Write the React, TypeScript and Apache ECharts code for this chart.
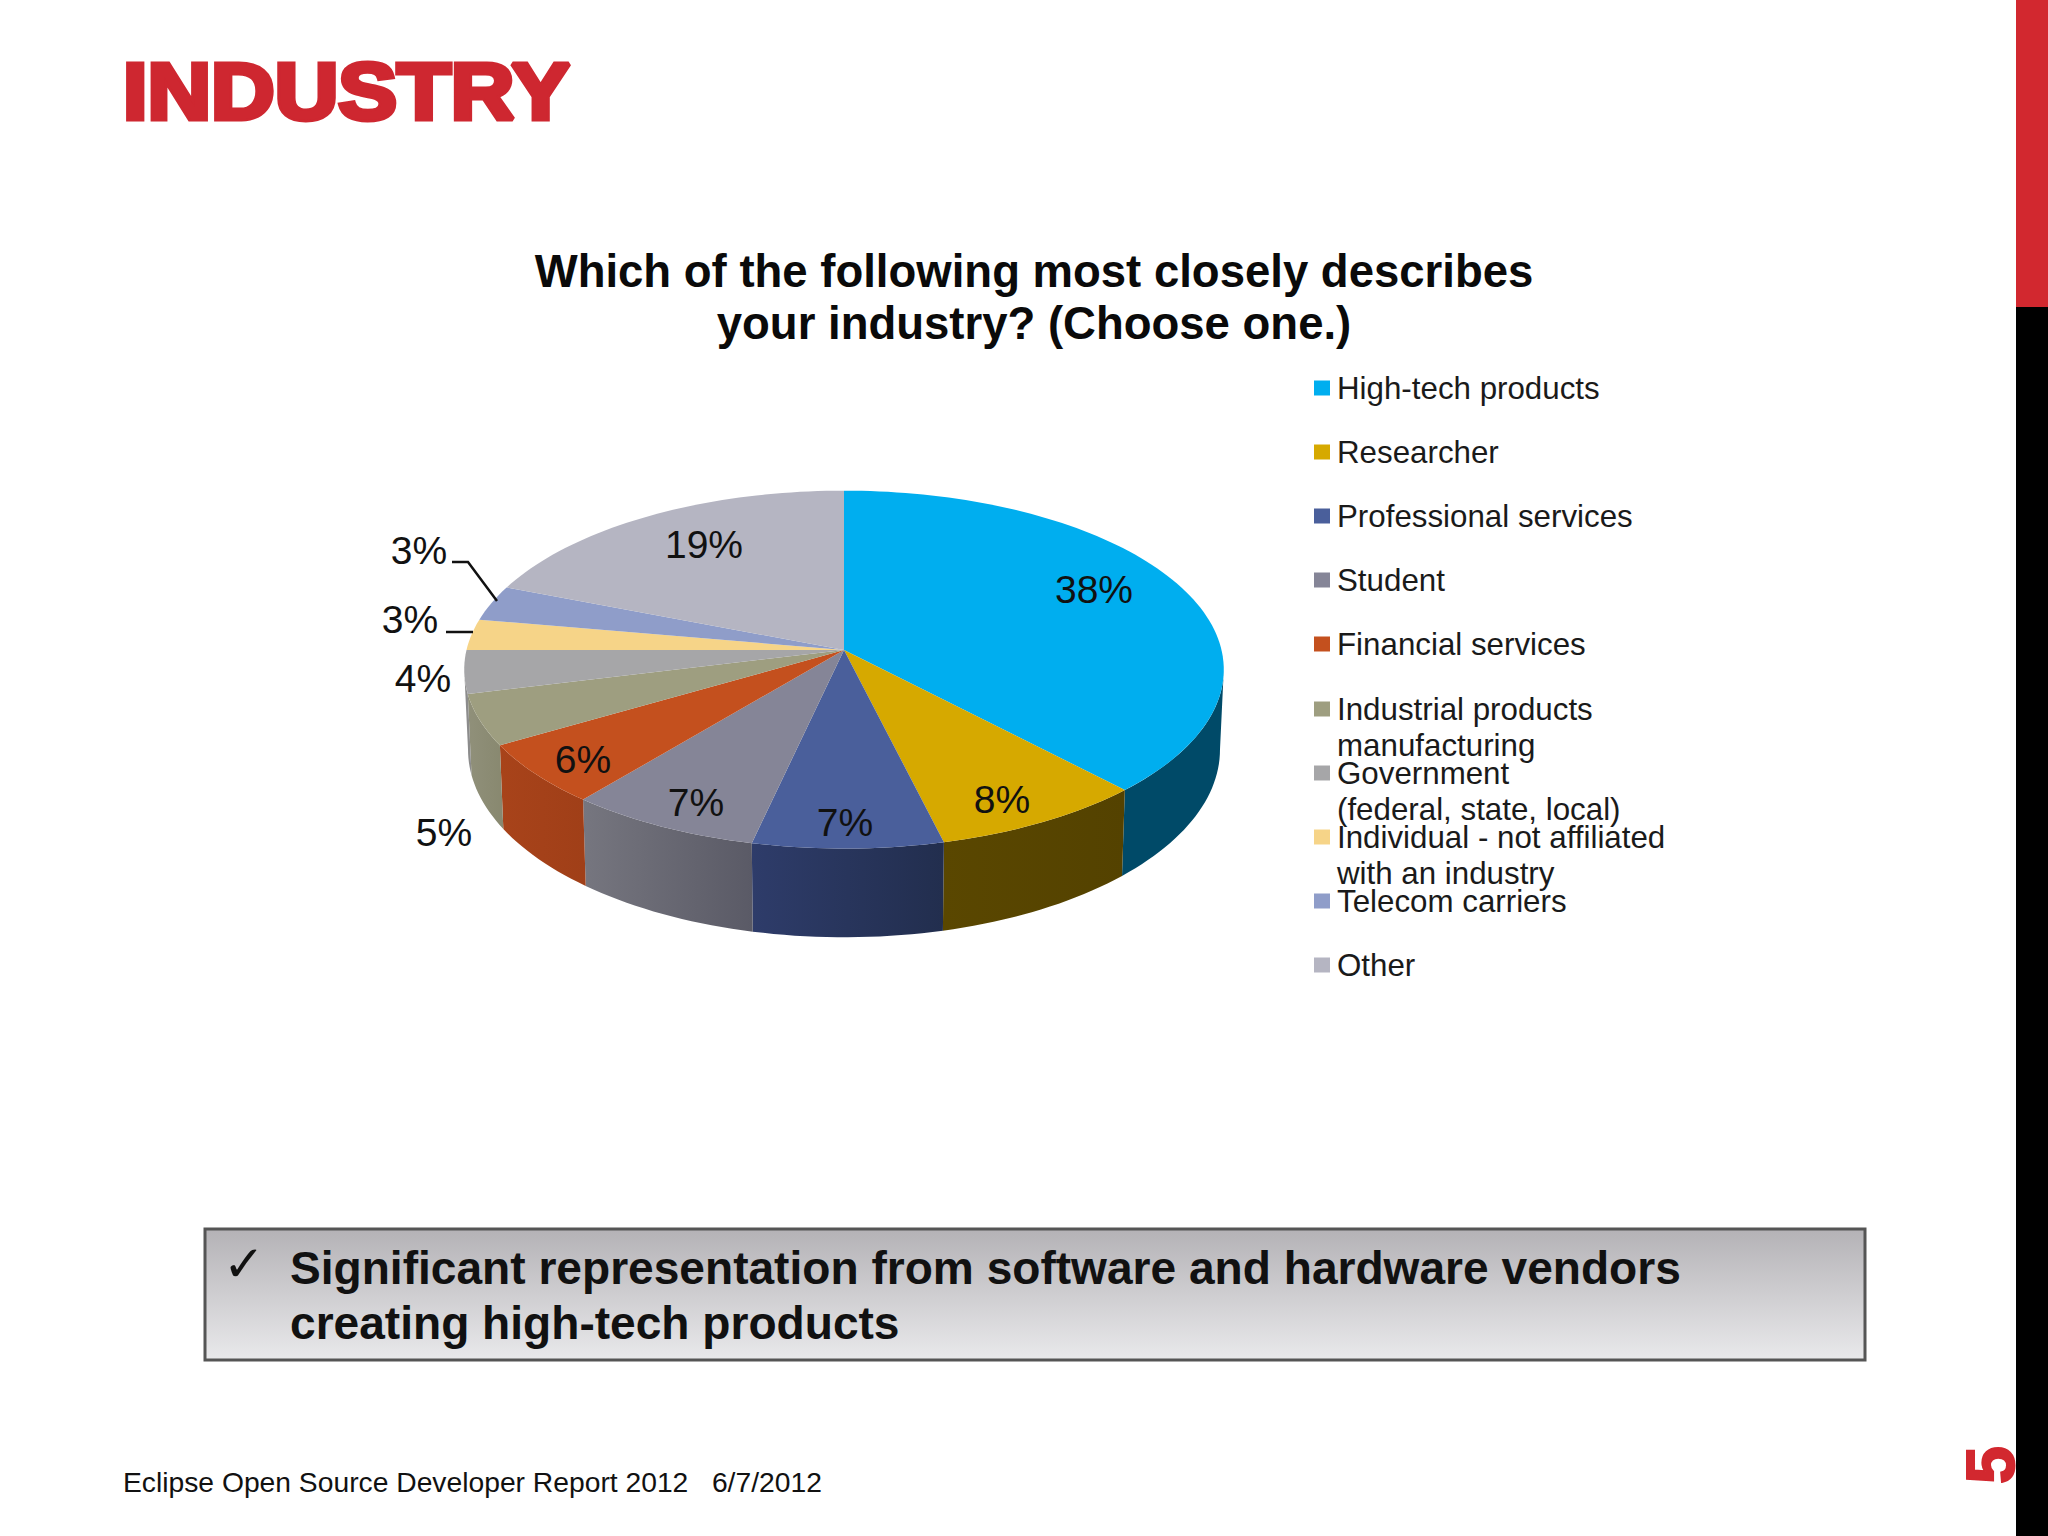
import React, { useEffect, useRef } from "react";
import * as echarts from "echarts";

const categories = [
  "High-tech products",
  "Researcher",
  "Professional services",
  "Student",
  "Financial services",
  "Industrial products manufacturing",
  "Government (federal, state, local)",
  "Individual - not affiliated with an industry",
  "Telecom carriers",
  "Other",
];
const legendLines = [
  ["High-tech products"],
  ["Researcher"],
  ["Professional services"],
  ["Student"],
  ["Financial services"],
  ["Industrial products", "manufacturing"],
  ["Government", "(federal, state, local)"],
  ["Individual - not affiliated", "with an industry"],
  ["Telecom carriers"],
  ["Other"],
];
const values = [38, 8.2, 7.3, 7.4, 5.6, 4.6, 3.9, 2.8, 3.2, 19];
const topColors = ["#00AEEF", "#D6A900", "#4A5F9B", "#858597", "#C4501E", "#9E9E80", "#A6A6A8", "#F6D488", "#8F9DC9", "#B5B5C2"];
const wallColorsA = ["#004A68", "#5A4700", "#2E3C6A", "#76767F", "#A8431A", "#90907A", "#8C8C8C", "#888", "#888", "#888"];
const wallColorsB = ["#004A68", "#544200", "#222E4E", "#5A5A66", "#A03F18", "#88886F", "#8C8C8C", "#888", "#888", "#888"];
const labelCenters: number[][] = [
  [1094, 589], [1002, 799], [845, 822], [696, 802], [583, 759],
  [444, 832], [423, 678], [410, 619], [419, 550], [704, 544],
];
const legendCenters = [388, 452, 516, 580, 644, 709, 773, 837, 901, 965];
const leaderLines: Record<number, number[][]> = {
  7: [[446, 632], [473, 632]],
  8: [[452, 562], [468, 562], [497, 601]],
};

const FONT = '"Liberation Sans", Arial, sans-serif';
const CX = 844;
const CY = 650;
const RX = 377.5;
const RY = 176.8;
const K = 0.1095;
const WALL = 79;
const WALL_X = 0.99;

function project(deg: number, wall: boolean): number[] {
  const t = (deg * Math.PI) / 180;
  const u = Math.sin(t);
  const v = -Math.cos(t);
  const d = 1 - K * v;
  const x = (RX * u) / d;
  const y = (RY * v) / d;
  if (!wall) return [CX + x, CY + y];
  return [CX + x * WALL_X, CY + y + WALL / d];
}

function arcPoints(a: number, b: number, wall: boolean): number[][] {
  const n = Math.max(2, Math.ceil((b - a) / 1.5));
  const out: number[][] = [];
  for (let i = 0; i <= n; i++) out.push(project(a + ((b - a) * i) / n, wall));
  return out;
}

function buildOption() {
  const total = values.reduce((s, v) => s + v, 0);
  let acc = 0;
  const series = categories.map((name, i) => {
    const startValue = acc;
    acc += values[i];
    return {
      type: "custom",
      name,
      coordinateSystem: "none",
      silent: true,
      animation: false,
      itemStyle: { color: topColors[i] },
      data: [[values[i]]],
      renderItem: (_p: any, api: any) => {
        const value = api.value(0);
        const a = (startValue / total) * 360;
        const b = ((startValue + value) / total) * 360;
        const children: any[] = [];
        const wa = Math.max(a, 96.3);
        const wb = Math.min(b, 263.7);
        if (wb > wa) {
          const pts = arcPoints(wa, wb, false).concat(arcPoints(wa, wb, true).reverse());
          children.push({
            type: "polygon",
            shape: { points: pts },
            style: {
              fill: new echarts.graphic.LinearGradient(0, 0, 1, 0, [
                { offset: 0, color: wallColorsA[i] },
                { offset: 1, color: wallColorsB[i] },
              ]),
            },
          });
        }
        children.push({
          type: "polygon",
          shape: { points: [[CX, CY], ...arcPoints(a, b, false)] },
          style: { fill: topColors[i] },
        });
        if (leaderLines[i]) {
          children.push({
            type: "polyline",
            shape: { points: leaderLines[i] },
            style: { stroke: "#111", lineWidth: 2.5, fill: "none" },
            z2: 20,
          });
        }
        children.push({
          type: "text",
          z2: 30,
          style: {
            text: `${Math.round(value)}%`,
            x: labelCenters[i][0],
            y: labelCenters[i][1],
            align: "center",
            verticalAlign: "middle",
            fontSize: 39,
            fontFamily: FONT,
            fill: "#111",
          },
        });
        return { type: "group", children };
      },
    };
  });

  const LH = 36.5;
  const legend = categories.map((name, i) => {
    const lines = legendLines[i];
    const two = lines.length > 1;
    return {
      data: [name],
      orient: "vertical",
      left: 1314,
      top: two ? legendCenters[i] - 1.5 * LH : legendCenters[i] - LH / 2,
      padding: 0,
      icon: "rect",
      itemWidth: 16,
      itemHeight: 15,
      selectedMode: false,
      formatter: () => (two ? ["", lines[0], lines[1]].join("\n") : lines[0]),
      textStyle: { fontFamily: FONT, fontSize: 31.3, lineHeight: LH, color: "#1a1a1a", padding: [0, 0, 0, 2] },
    };
  });

  return {
    animation: false,
    backgroundColor: "#FFFFFF",
    title: {
      text: "Which of the following most closely describes\nyour industry? (Choose one.)",
      left: 1034,
      top: 245,
      textAlign: "center",
      padding: 0,
      textStyle: { fontFamily: FONT, fontSize: 45.5, fontWeight: "bold", lineHeight: 52.5, color: "#0a0a0a" },
    },
    legend,
    series,
    graphic: [
      { type: "rect", shape: { x: 2016, y: 0, width: 32, height: 1536 }, style: { fill: "#000" } },
      { type: "rect", shape: { x: 2016, y: 0, width: 32, height: 307 }, style: { fill: "#D2282F" } },
      {
        type: "text",
        x: 123,
        y: 92,
        scaleX: 1.115,
        style: {
          text: "INDUSTRY",
          fontFamily: FONT,
          fontWeight: "bold",
          fontSize: 79,
          fill: "#CE2730",
          stroke: "#CE2730",
          lineWidth: 5,
          verticalAlign: "middle",
        },
      },
      {
        type: "rect",
        shape: { x: 205, y: 1229, width: 1660, height: 131 },
        style: {
          stroke: "#555",
          lineWidth: 3,
          fill: new echarts.graphic.LinearGradient(0, 0, 0, 1, [
            { offset: 0, color: "#B4B2B6" },
            { offset: 1, color: "#E9E9EB" },
          ]),
        },
      },
      {
        type: "text",
        x: 244,
        y: 1264,
        style: { text: "\u2713", fontFamily: '"DejaVu Sans"', fontSize: 50, fill: "#111", align: "center", verticalAlign: "middle" },
      },
      {
        type: "text",
        x: 290,
        y: 1268,
        style: {
          text: "Significant representation from software and hardware vendors",
          fontFamily: FONT,
          fontWeight: "bold",
          fontSize: 46.1,
          fill: "#111",
          verticalAlign: "middle",
        },
      },
      {
        type: "text",
        x: 290,
        y: 1323,
        style: {
          text: "creating high-tech products",
          fontFamily: FONT,
          fontWeight: "bold",
          fontSize: 46.1,
          fill: "#111",
          verticalAlign: "middle",
        },
      },
      {
        type: "text",
        x: 123,
        y: 1482,
        style: {
          text: "Eclipse Open Source Developer Report 2012   6/7/2012",
          fontFamily: FONT,
          fontSize: 28.26,
          fill: "#111",
          verticalAlign: "middle",
        },
      },
      {
        type: "text",
        x: 1990,
        y: 1465,
        rotation: Math.PI / 2,
        style: {
          text: "5",
          fontFamily: FONT,
          fontWeight: "bold",
          fontSize: 68,
          fill: "#D2282F",
          stroke: "#D2282F",
          lineWidth: 2,
          align: "center",
          verticalAlign: "middle",
        },
      },
    ],
  };
}

export default function App() {
  const ref = useRef<HTMLDivElement>(null);
  useEffect(() => {
    if (!ref.current) return;
    const chart = echarts.init(ref.current, undefined, { renderer: "svg" });
    chart.setOption(buildOption() as any);
    return () => chart.dispose();
  }, []);
  return <div ref={ref} style={{ position: "fixed", left: 0, top: 0, width: 2048, height: 1536 }} />;
}
